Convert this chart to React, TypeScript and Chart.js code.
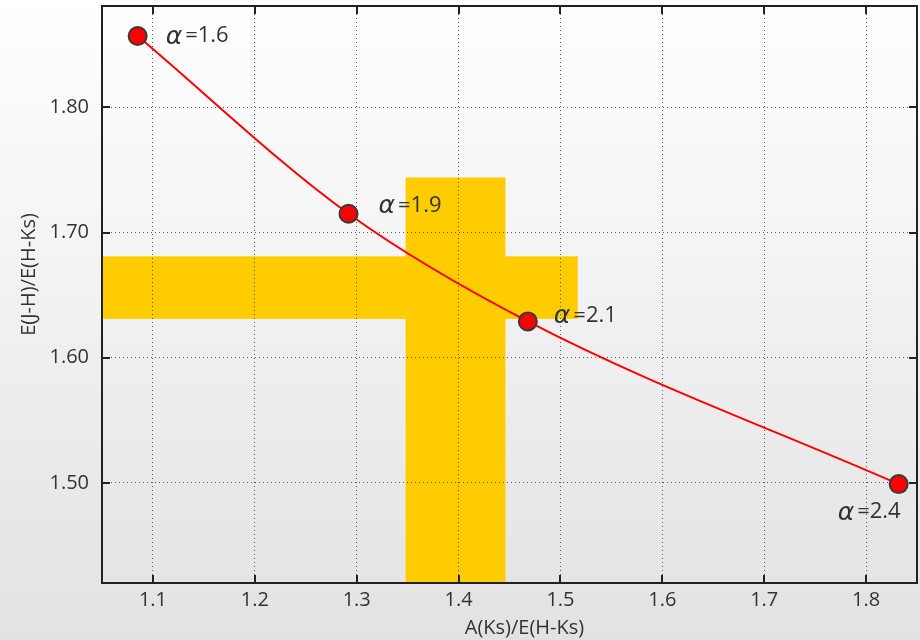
import React, { useEffect, useRef } from 'react';
import { Chart, registerables } from 'chart.js';

Chart.register(...registerables);

// ---- data ----
const xValues = [1.085, 1.292, 1.468, 1.832];
const yValues = [1.857, 1.715, 1.629, 1.499];
const alphaLabels = ['1.6', '1.9', '2.1', '2.4'];
const xTicks = [1.1, 1.2, 1.3, 1.4, 1.5, 1.6, 1.7, 1.8];
const yTicks = [1.5, 1.6, 1.7, 1.8];
const xRange = [1.05, 1.85];
const yRange = [1.42, 1.881];
const xTitle = 'A(Ks)/E(H-Ks)';
const yTitle = 'E(J-H)/E(H-Ks)';
// observed band (horizontal: E(J-H)/E(H-Ks) range, vertical: A(Ks)/E(H-Ks) range)
const hBandX = [1.0, 1.517];
const hBandY = [1.631, 1.681];
const vBandX = [1.348, 1.446];
const vBandY = [1.4, 1.744];

const FONT = '"Open Sans", "Noto Sans", sans-serif';

const decorPlugin = {
  id: 'decor',
  beforeDraw(chart: any) {
    const { ctx, width, height, chartArea: a, scales } = chart;
    ctx.save();
    const g = ctx.createLinearGradient(0, 0, 0, height);
    g.addColorStop(0, '#ffffff');
    g.addColorStop(1, '#e2e2e2');
    ctx.fillStyle = g;
    ctx.fillRect(0, 0, width, height);
    // yellow bands
    ctx.beginPath();
    ctx.rect(a.left, a.top, a.right - a.left, a.bottom - a.top);
    ctx.clip();
    ctx.fillStyle = '#ffcc00';
    const x = scales.x, y = scales.y;
    const rect = (xs: number[], ys: number[]) => {
      const x0 = x.getPixelForValue(xs[0]);
      const x1 = x.getPixelForValue(xs[1]);
      const y0 = y.getPixelForValue(ys[1]);
      const y1 = y.getPixelForValue(ys[0]);
      ctx.fillRect(x0, y0, x1 - x0, y1 - y0);
    };
    rect(hBandX, hBandY);
    rect(vBandX, vBandY);
    ctx.restore();
  },
  afterDatasetsDraw(chart: any) {
    const { ctx, chartArea: a, scales } = chart;
    ctx.save();
    ctx.strokeStyle = '#222';
    ctx.lineWidth = 2;
    ctx.strokeRect(a.left, a.top, a.right - a.left, a.bottom - a.top);
    const tl = 8;
    ctx.beginPath();
    xTicks.forEach((v) => {
      const px = Math.round(scales.x.getPixelForValue(v));
      ctx.moveTo(px, a.bottom);
      ctx.lineTo(px, a.bottom - tl);
      ctx.moveTo(px, a.top);
      ctx.lineTo(px, a.top + tl);
    });
    yTicks.forEach((v) => {
      const py = Math.round(scales.y.getPixelForValue(v));
      ctx.moveTo(a.left, py);
      ctx.lineTo(a.left + tl, py);
      ctx.moveTo(a.right, py);
      ctx.lineTo(a.right - tl, py);
    });
    ctx.stroke();

    // alpha labels
    const offsets = [
      [28, 0],
      [30, -8],
      [26, -6],
      [-61, 28],
    ];
    ctx.fillStyle = '#333';
    ctx.textBaseline = 'middle';
    ctx.textAlign = 'left';
    xValues.forEach((xv, i) => {
      const px = scales.x.getPixelForValue(xv) + offsets[i][0];
      const py = scales.y.getPixelForValue(yValues[i]) + offsets[i][1];
      ctx.font = `italic 25px "DejaVu Sans", sans-serif`;
      ctx.fillText('\u03b1', px, py + 1);
      const w = ctx.measureText('\u03b1').width;
      ctx.font = `22px ${FONT}`;
      ctx.fillText('=' + alphaLabels[i], px + w + 3, py);
    });

    // axis titles
    ctx.font = `20px ${FONT}`;
    ctx.textAlign = 'center';
    ctx.textBaseline = 'middle';
    ctx.fillText(xTitle, (a.left + a.right) / 2 + 15, a.bottom + 45);
    ctx.translate(29, (a.top + a.bottom) / 2 - 20);
    ctx.rotate(-Math.PI / 2);
    ctx.fillText(yTitle, 0, 0);
    ctx.restore();
  },
};

export default function App() {
  const ref = useRef<HTMLCanvasElement | null>(null);
  useEffect(() => {
    document.body.style.margin = '0';
    if (!ref.current) return;
    const chart = new Chart(ref.current, {
      type: 'line',
      data: {
        datasets: [
          {
            data: xValues.map((x, i) => ({ x, y: yValues[i] })),
            borderColor: '#ff0000',
            borderWidth: 2,
            pointRadius: 9,
            pointHoverRadius: 9,
            pointBackgroundColor: '#ff0000',
            pointBorderColor: '#3a3a3a',
            pointBorderWidth: 2,
            cubicInterpolationMode: 'monotone',
            fill: false,
          },
        ],
      },
      options: {
        animation: false,
        responsive: true,
        maintainAspectRatio: false,
        layout: { autoPadding: false, padding: { top: 6, right: 3, left: 0, bottom: 0 } },
        plugins: { legend: { display: false }, tooltip: { enabled: false } },
        scales: {
          x: {
            type: 'linear',
            min: xRange[0],
            max: xRange[1],
            afterBuildTicks: (s: any) => {
              s.ticks = xTicks.map((v) => ({ value: v }));
            },
            afterFit: (s: any) => {
              s.height = 57;
              s.paddingLeft = 0;
              s.paddingRight = 0;
            },
            ticks: {
              callback: (v: any) => Number(v).toFixed(1),
              font: { family: FONT, size: 20 },
              color: '#333',
              padding: 5,
              maxRotation: 0,
            },
            grid: { color: 'rgba(40,40,40,0.75)', lineWidth: 1, drawTicks: false },
            border: { display: true, color: '#222', width: 2, dash: [1, 3] },
            title: { display: false },
          },
          y: {
            type: 'linear',
            min: yRange[0],
            max: yRange[1],
            afterBuildTicks: (s: any) => {
              s.ticks = yTicks.map((v) => ({ value: v }));
            },
            afterFit: (s: any) => {
              s.width = 102;
              s.paddingTop = 0;
              s.paddingBottom = 0;
            },
            ticks: {
              callback: (v: any) => Number(v).toFixed(2),
              font: { family: FONT, size: 20 },
              color: '#333',
              padding: 13,
            },
            grid: { color: 'rgba(40,40,40,0.75)', lineWidth: 1, drawTicks: false },
            border: { display: true, color: '#222', width: 2, dash: [1, 3] },
            title: { display: false },
          },
        },
      },
      plugins: [decorPlugin],
    } as any);
    return () => chart.destroy();
  }, []);
  return (
    <div style={{ width: 920, height: 640, position: 'relative' }}>
      <canvas ref={ref} />
    </div>
  );
}
